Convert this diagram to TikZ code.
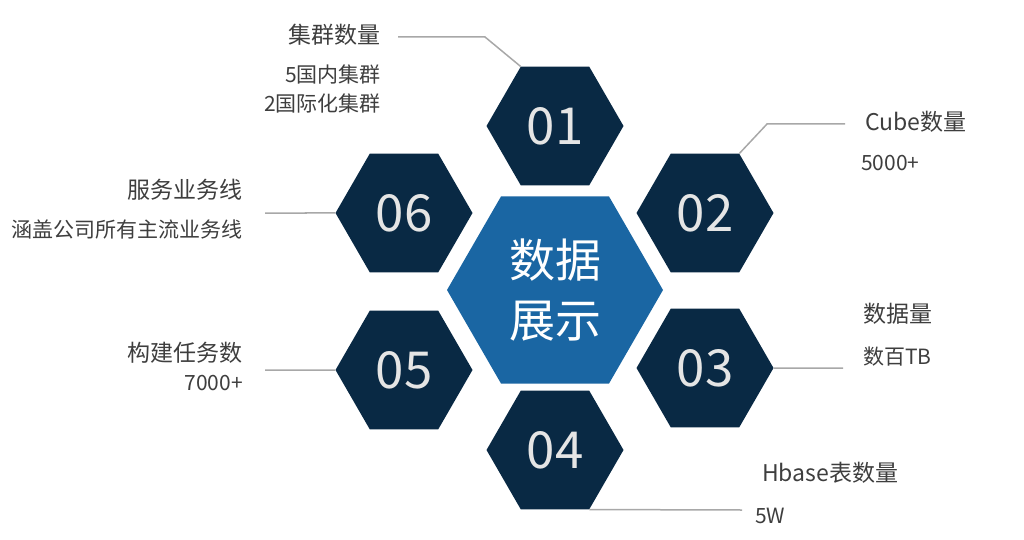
\documentclass[tikz,border=0pt]{standalone}
\usepackage{fontspec}
\setmainfont{Noto Sans CJK SC}
\usetikzlibrary{shapes.geometric, positioning}
\definecolor{hexnavy}{RGB}{9,41,68}
\definecolor{coreblue}{RGB}{26,102,163}
\definecolor{labelgrey}{RGB}{62,62,62}
\definecolor{leadgrey}{RGB}{168,168,168}

\begin{document}
\begin{tikzpicture}[
  x=1pt, y=-1pt,
  hexa/.style={regular polygon, regular polygon sides=6, fill=hexnavy,
               minimum size=137pt, inner sep=0pt, text=white!90!black,
               font=\fontsize{51}{51}\selectfont},
  core/.style={regular polygon, regular polygon sides=6, fill=coreblue,
               minimum size=216pt, inner sep=0pt, text=white, align=center,
               font=\fontsize{46}{60}\selectfont},
  head/.style={inner sep=0pt, text=labelgrey, font=\fontsize{23}{23}\selectfont},
  note/.style={inner sep=0pt, text=labelgrey, font=\fontsize{21}{29}\selectfont},
  lead/.style={draw=leadgrey, line width=1.5pt}
]
  \useasboundingbox (0,0) rectangle (1024,540);

  % hexagons
  \node[core] (core) at (555,290) {数据\\展示};
  \node[hexa] (h01) at (555,126) {01};
  \node[hexa] (h02) at (705,213) {02};
  \node[hexa] (h03) at (705,368) {03};
  \node[hexa] (h04) at (555,450) {04};
  \node[hexa] (h05) at (404,370) {05};
  \node[hexa] (h06) at (404,213) {06};

  % labels
  \node[head, anchor=east] (t01) at (381,35) {集群数量};
  \node[note, anchor=east, align=right] (n01) at (381,89) {5国内集群\\2国际化集群};
  \node[head, anchor=west] (t02) at (865,122) {Cube数量};
  \node[note, anchor=west] (n02) at (861,163) {5000+};
  \node[head, anchor=west] (t03) at (863,314) {数据量};
  \node[note, anchor=west] (n03) at (863,357) {数百TB};
  \node[head, anchor=west] (t04) at (762,473) {Hbase表数量};
  \node[note, anchor=west] (n04) at (755,516) {5W};
  \node[head, anchor=east] (t05) at (243,353) {构建任务数};
  \node[note, anchor=east] (n05) at (243,383) {7000+};
  \node[head, anchor=east] (t06) at (243,190) {服务业务线};
  \node[note, anchor=east] (n06) at (243,230) {涵盖公司所有主流业务线};

  % leader lines
  \coordinate (e01) at (398,37);
  \coordinate (e02) at (845,124);
  \coordinate (e03) at (843,368);
  \coordinate (e04) at (742,510);
  \coordinate (e05) at (265,370);
  \coordinate (e06) at (265,213);
  \draw[lead] (h01.120) -- (485,37) -- (e01);
  \draw[lead] (h02.60) -- (767,124) -- (e02);
  \draw[lead] (h03.0) -- (e03);
  \draw[lead] (h04.300) -- (e04);
  \draw[lead] (h05.180) -- (e05);
  \draw[lead] (h06.180) -- (e06);
\end{tikzpicture}
\end{document}
